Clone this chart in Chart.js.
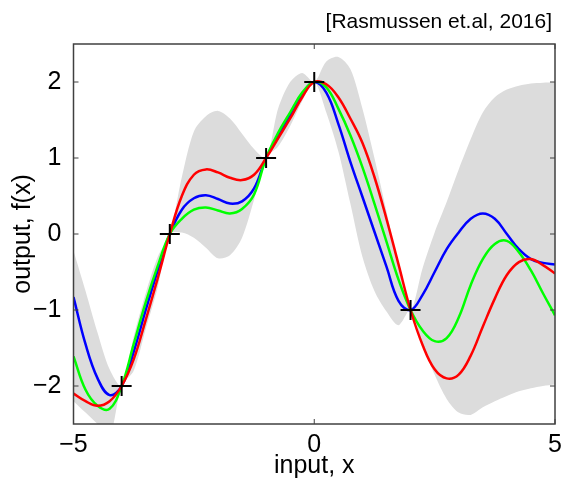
<!DOCTYPE html>
<html>
<head>
<meta charset="utf-8">
<script src="https://cdn.jsdelivr.net/npm/chart.js@4.4.1/dist/chart.umd.min.js"></script>
<style>
  html, body { margin: 0; padding: 0; background: #fff; }
  #wrap { width: 567px; height: 480px; }
</style>
</head>
<body>
<div id="wrap"><canvas id="gp"></canvas></div>
<script>
// sample positions along the input axis
var xs = [-5, -4.75, -4.5, -4.25, -4, -3.75, -3.5, -3.25, -3, -2.75, -2.5, -2.25, -2, -1.75, -1.5, -1.25, -1,
          -0.75, -0.5, -0.25, 0, 0.25, 0.5, 0.75, 1, 1.25, 1.5, 1.75, 2, 2.25, 2.5, 2.75, 3, 3.25, 3.5, 3.75,
          4, 4.25, 4.5, 4.75, 5];

// gray band (upper / lower edge)
var bandUpper = [-0.22, -0.75, -1.3, -1.78, -2.0, -1.35, -0.78, -0.3, 0, 0.75, 1.35, 1.55, 1.62, 1.52, 1.32, 1.12, 1.0,
                 1.65, 2.0, 2.12, 2.0, 2.27, 2.33, 2.17, 1.65, 1.0, 0.3, -0.42, -1.0, -0.45, 0.02, 0.42, 0.85, 1.25, 1.6, 1.8,
                 1.9, 1.95, 1.98, 1.99, 2.0];
var bandLower = [-2.2, -2.35, -2.5, -2.65, -2.0, -1.8, -1.25, -0.7, 0, 0.02, -0.05, -0.18, -0.32, -0.28, -0.05, 0.45, 1.0,
                 1.15, 1.42, 1.75, 2.0, 1.6, 1.09, 0.4, -0.3, -0.75, -1.02, -1.2, -1.0, -1.45, -1.85, -2.17, -2.35, -2.38, -2.28, -2.2,
                 -2.13, -2.07, -2.03, -2.0, -1.98];

// three sample functions
var blueY = [-0.83, -1.45, -1.9, -2.12, -2.0, -1.55, -1.0, -0.48, 0, 0.32, 0.47, 0.51, 0.46, 0.40, 0.43, 0.6, 1.0,
             1.3, 1.57, 1.84, 2.0, 1.86, 1.45, 0.95, 0.49, 0.03, -0.43, -0.88, -1.0, -0.8, -0.5, -0.2, 0.02, 0.2, 0.27, 0.2,
             0.0, -0.2, -0.33, -0.38, -0.4];
var greenY = [-1.61, -2.05, -2.26, -2.3, -2.0, -1.45, -0.9, -0.42, 0, 0.2, 0.32, 0.35, 0.31, 0.27, 0.33, 0.52, 1.0,
              1.33, 1.6, 1.86, 2.0, 1.93, 1.65, 1.3, 0.88, 0.4, -0.1, -0.6, -1.0, -1.27, -1.41, -1.37, -1.1, -0.67, -0.33, -0.13,
              -0.09, -0.24, -0.48, -0.78, -1.07];
var redY = [-2.1, -2.2, -2.26, -2.2, -2.0, -1.65, -1.13, -0.58, 0, 0.5, 0.78, 0.85, 0.81, 0.74, 0.71, 0.78, 1.0,
            1.26, 1.52, 1.8, 2.0, 1.97, 1.8, 1.52, 1.2, 0.75, 0.2, -0.4, -1.0, -1.46, -1.78, -1.9, -1.85, -1.6, -1.22, -0.85,
            -0.54, -0.37, -0.33, -0.41, -0.52];

// training points
var obsX = [-4, -3, -1, 0, 2];
var obsY = [-2, 0, 1, 2, -1];

var xTicks = [-5, 0, 5];
var yTicks = [-2, -1, 0, 1, 2];

var FONT = "'Liberation Sans', Arial, sans-serif";

function pts(xv, yv) {
    return xv.map(function (x, i) { return { x: x, y: yv[i] }; });
}
function minus(v) {
    return v < 0 ? '\u2212' + Math.abs(v) : '' + v;
}

var boxPlugin = {
    id: 'box',
    afterDraw: function (chart) {
        var c = chart.ctx, a = chart.chartArea;
        var sx = chart.scales.x, sy = chart.scales.y;
        c.save();
        c.strokeStyle = '#404040';
        c.lineWidth = 1.5;
        c.strokeRect(a.left, a.top, a.right - a.left, a.bottom - a.top);
        c.lineWidth = 1;
        c.beginPath();
        xTicks.forEach(function (v) {
            var p = sx.getPixelForValue(v);
            c.moveTo(p, a.bottom); c.lineTo(p, a.bottom - 5);
            c.moveTo(p, a.top); c.lineTo(p, a.top + 5);
        });
        yTicks.forEach(function (v) {
            var p = sy.getPixelForValue(v);
            c.moveTo(a.left, p); c.lineTo(a.left + 5, p);
            c.moveTo(a.right, p); c.lineTo(a.right - 5, p);
        });
        c.stroke();
        // citation in the top right corner
        c.fillStyle = '#000';
        c.font = '21px ' + FONT;
        c.textAlign = 'right';
        c.textBaseline = 'alphabetic';
        c.fillText('[Rasmussen et.al, 2016]', 552, 28);
        c.restore();
    }
};

function lineSet(label, yv, color) {
    return {
        label: label,
        data: pts(xs, yv),
        borderColor: color,
        borderWidth: 2.5,
        pointRadius: 0,
        tension: 0.4,
        fill: false
    };
}

var chart = new Chart(document.getElementById('gp').getContext('2d'), {
    type: 'line',
    data: {
        datasets: [
            {
                label: 'observations',
                data: pts(obsX, obsY),
                showLine: false,
                pointStyle: 'cross',
                pointRadius: 10,
                pointBorderWidth: 2,
                pointBorderColor: '#000',
                borderColor: '#000'
            },
            lineSet('sample 3', redY, '#ff0000'),
            lineSet('sample 2', greenY, '#00ff00'),
            lineSet('sample 1', blueY, '#0000ff'),
            {
                label: 'upper',
                data: pts(xs, bandUpper),
                borderWidth: 0,
                pointRadius: 0,
                tension: 0.3,
                fill: '+1',
                backgroundColor: '#dcdcdc'
            },
            {
                label: 'lower',
                data: pts(xs, bandLower),
                borderWidth: 0,
                pointRadius: 0,
                tension: 0.3,
                fill: false
            }
        ]
    },
    options: {
        responsive: true,
        maintainAspectRatio: false,
        animation: false,
        layout: { padding: { left: 0, right: 8, top: 44, bottom: 0 } },
        plugins: {
            legend: { display: false },
            tooltip: { enabled: false }
        },
        scales: {
            x: {
                type: 'linear',
                min: -5,
                max: 5,
                afterBuildTicks: function (s) { s.ticks = xTicks.map(function (v) { return { value: v }; }); },
                afterFit: function (s) { s.height = 56; },
                grid: { display: false },
                border: { display: false },
                ticks: {
                    color: '#000',
                    padding: -2,
                    maxRotation: 0,
                    font: { family: FONT, size: 25 },
                    callback: function (v) { return minus(v); }
                },
                title: {
                    display: true,
                    text: 'input, x',
                    color: '#000',
                    font: { family: FONT, size: 25, lineHeight: 1 },
                    padding: { top: 0, bottom: 1 }
                }
            },
            y: {
                type: 'linear',
                min: -2.5,
                max: 2.5,
                afterBuildTicks: function (s) { s.ticks = yTicks.map(function (v) { return { value: v }; }); },
                afterFit: function (s) { s.width = 73.5; },
                grid: { display: false },
                border: { display: false },
                ticks: {
                    color: '#000',
                    padding: 4,
                    font: { family: FONT, size: 25 },
                    callback: function (v) { return minus(v); }
                },
                title: {
                    display: true,
                    text: 'output, f(x)',
                    color: '#000',
                    font: { family: FONT, size: 25, lineHeight: 1 },
                    padding: { top: 11, bottom: 0 }
                }
            }
        }
    },
    plugins: [boxPlugin]
});
</script>
</body>
</html>
